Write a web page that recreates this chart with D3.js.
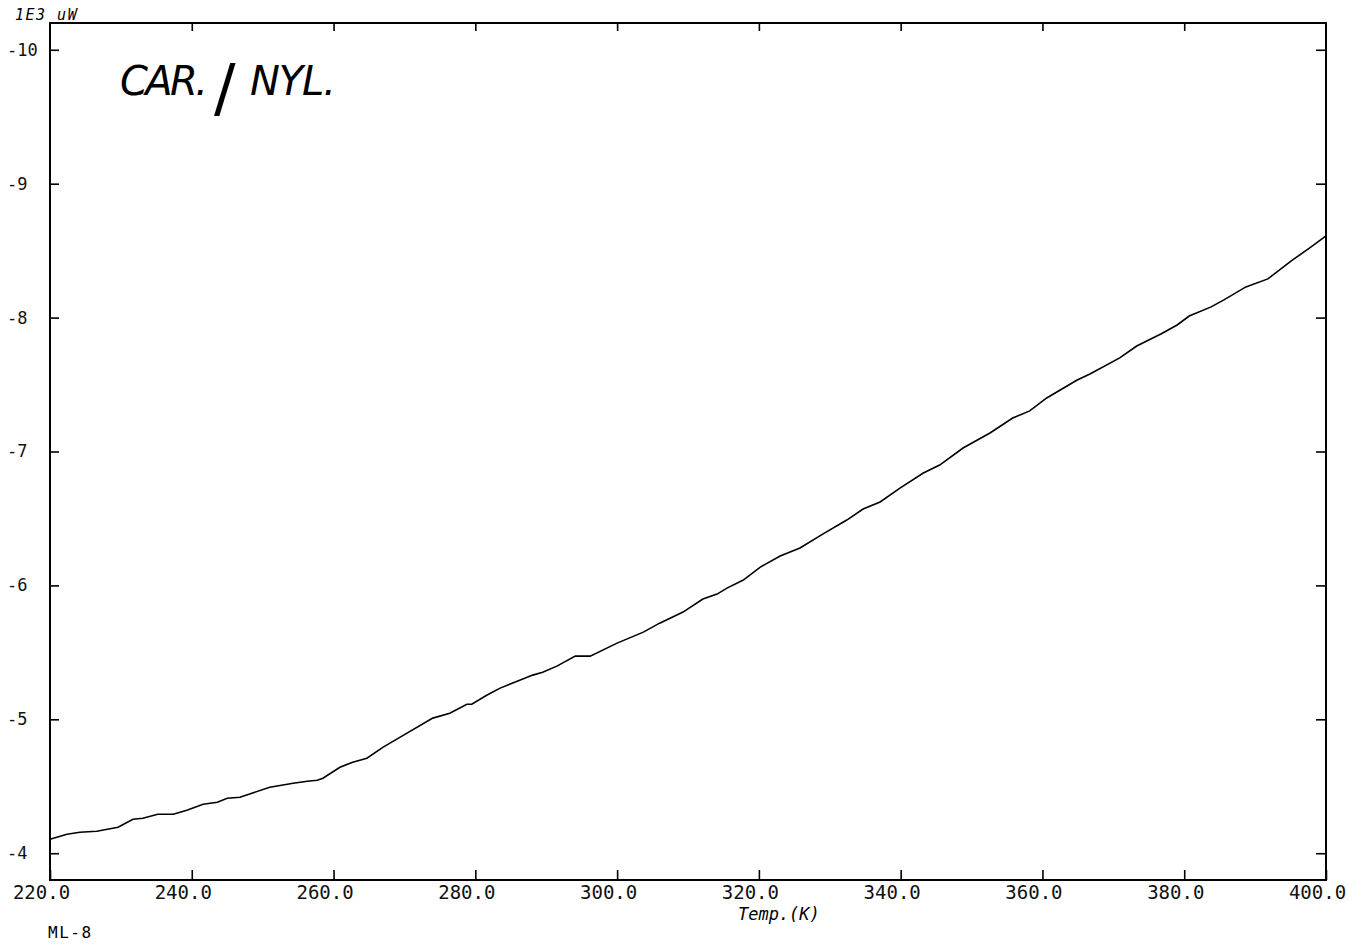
<!DOCTYPE html>
<html>
<head>
<meta charset="utf-8">
<script src="https://cdn.jsdelivr.net/npm/d3@7"></script>
<style>
  body { margin: 0; background: #fff; }
  svg { display: block; }
  .tick line { stroke: #000; stroke-width: 1.6; }
  .tick text { font-family: "DejaVu Sans Mono", monospace; fill: #111; }
</style>
</head>
<body>
<div id="chart"></div>
<script>
// DSC trace, heat flow (1E3 uW) vs temperature (K)
var temps = [220.0, 222.4, 224.2, 226.6, 229.6, 231.7, 233.1, 235.2, 237.4, 239.3,
  241.6, 243.6, 245.0, 246.8, 251.0, 254.3, 256.3, 257.7, 258.5, 260.9,
  262.7, 264.7, 267.0, 269.4, 274.0, 276.4, 278.8, 279.5, 281.6, 283.5,
  285.9, 288.1, 289.5, 291.5, 294.1, 296.2, 300.0, 303.7, 306.0, 309.3,
  312.1, 314.1, 315.5, 317.8, 320.2, 323.0, 325.8, 329.0, 332.4, 334.7,
  337.1, 339.9, 343.2, 345.5, 348.8, 352.6, 355.8, 358.2, 360.6, 364.9,
  366.7, 370.9, 373.3, 376.7, 379.0, 380.7, 383.8, 385.6, 388.7, 391.8,
  395.1, 397.9, 400.0];
var heatFlow = [-4.104, -4.142, -4.157, -4.164, -4.194, -4.254, -4.261, -4.291, -4.291, -4.321,
  -4.366, -4.381, -4.411, -4.418, -4.493, -4.523, -4.538, -4.545, -4.560, -4.642,
  -4.680, -4.710, -4.792, -4.867, -5.009, -5.046, -5.113, -5.113, -5.180, -5.233,
  -5.285, -5.330, -5.352, -5.397, -5.472, -5.472, -5.569, -5.651, -5.718, -5.801,
  -5.898, -5.935, -5.980, -6.040, -6.137, -6.219, -6.279, -6.383, -6.488, -6.570,
  -6.623, -6.727, -6.839, -6.899, -7.026, -7.138, -7.250, -7.303, -7.400, -7.534,
  -7.579, -7.699, -7.788, -7.878, -7.945, -8.012, -8.080, -8.132, -8.229, -8.289,
  -8.423, -8.528, -8.610];

var xTicks = [220, 240, 260, 280, 300, 320, 340, 360, 380, 400];
var yTicks = [-10, -9, -8, -7, -6, -5, -4];

var data = temps.map(function(t, i) { return { t: t, v: heatFlow[i] }; });

var margin = {left: 50, right: 39, top: 23, bottom: 65},
    width = 1365 - margin.left - margin.right,
    height = 945 - margin.top - margin.bottom;

var x = d3.scaleLinear().domain([220, 400]).range([0, width]);
var y = d3.scaleLinear().domain([-3.8, -10.2]).range([height, 0]);

var svg = d3.select("#chart").append("svg")
    .attr("width", 1365)
    .attr("height", 945);

var g = svg.append("g")
    .attr("transform", "translate(" + margin.left + "," + margin.top + ")");

// left axis: inner ticks, labels left-aligned near the page edge (plain hyphen minus)
var yl = g.append("g")
    .call(d3.axisLeft(y).tickValues(yTicks).tickSize(-9).tickFormat(function(d) { return String(d); }));
yl.selectAll("text")
    .attr("text-anchor", "start")
    .attr("x", -43)
    .style("font-size", "17px");

// right axis, ticks only
g.append("g")
    .attr("transform", "translate(" + width + ",0)")
    .call(d3.axisRight(y).tickValues(yTicks).tickSize(-10).tickFormat(""));

// bottom axis
var xb = g.append("g")
    .attr("transform", "translate(0," + height + ")")
    .call(d3.axisBottom(x).tickValues(xTicks).tickSize(-10).tickFormat(function(d) { return d.toFixed(1); }));
xb.selectAll("text")
    .attr("dx", -9)
    .attr("y", 6)
    .attr("dy", "0.71em")
    .style("font-size", "19px");

// top axis, ticks only
g.append("g")
    .call(d3.axisTop(x).tickValues(xTicks.slice(1, -1)).tickSize(-8).tickFormat(""));

g.selectAll(".domain").remove();

// frame
g.append("rect")
    .attr("width", width)
    .attr("height", height)
    .attr("fill", "none")
    .attr("stroke", "#000")
    .attr("stroke-width", 2);

// trace
var line = d3.line()
    .x(function(d) { return x(d.t); })
    .y(function(d) { return y(d.v); });

g.append("path")
    .datum(data)
    .attr("fill", "none")
    .attr("stroke", "#000")
    .attr("stroke-width", 1.6)
    .attr("d", line);

// texts
svg.append("text")
    .attr("x", 15).attr("y", 20)
    .style("font-family", "DejaVu Sans Mono, monospace")
    .style("font-style", "italic")
    .style("font-size", "15px")
    .style("letter-spacing", "1.5px")
    .text("1E3 uW");

svg.append("text")
    .attr("x", x(320) + margin.left + 20).attr("y", 920)
    .attr("text-anchor", "middle")
    .style("font-family", "DejaVu Sans Mono, monospace")
    .style("font-style", "italic")
    .style("font-size", "17px")
    .text("Temp.(K)");

svg.append("text")
    .attr("x", 48).attr("y", 938)
    .style("font-family", "DejaVu Sans Mono, monospace")
    .style("font-size", "16px")
    .style("letter-spacing", "1.5px")
    .text("ML-8");

// handwritten sample note
var note = svg.append("text")
    .attr("y", 95)
    .style("font-family", "DejaVu Sans, sans-serif")
    .style("font-style", "italic")
    .style("font-size", "40px");
note.append("tspan").attr("x", 120).attr("textLength", 88).text("CAR.");
note.append("tspan").attr("x", 214).attr("dy", 15).style("font-size", "64px").style("font-style", "normal").text("/");
note.append("tspan").attr("x", 250).attr("dy", -15).attr("textLength", 86).text("NYL.");
</script>
</body>
</html>
